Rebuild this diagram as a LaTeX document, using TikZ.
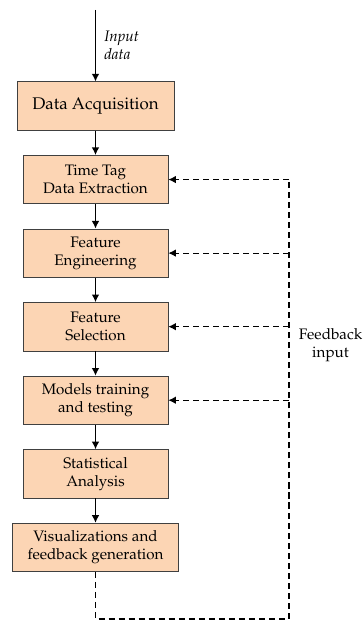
\documentclass[tikz,border=0pt]{standalone}
\usepackage[T1]{fontenc}
\usepackage{mathpazo}
\usetikzlibrary{arrows.meta,positioning}

\definecolor{boxpeach}{RGB}{252,213,180}

\tikzset{
  stage/.style={draw=black!75, fill=boxpeach, minimum width=95.4pt,
    minimum height=31.9pt, inner xsep=10pt, align=center},
  flow/.style={thick, -{Latex[length=5pt,width=5pt]}},
  fback/.style={thick, dash pattern=on 4pt off 2.6pt},
}

\begin{document}
\begin{tikzpicture}[x=0.658pt,y=-0.658pt, node distance=16.1pt]
        \useasboundingbox (0,0) rectangle (363,621);
        % pipeline stages
        \node[stage, font=\fontsize{11.1}{13}\selectfont] (acq) at (95.5,106) {Data Acquisition};
        \node[stage, below=of acq] (tag) {Time Tag\\Data Extraction};
        \node[stage, below=of tag] (eng) {Feature\\Engineering};
        \node[stage, below=of eng] (sel) {Feature\\Selection};
        \node[stage, below=of sel] (model) {Models training\\and testing};
        \node[stage, below=of model] (stat) {Statistical\\Analysis};
        \node[stage, below=of stat] (vis) {Visualizations and\\feedback generation};
        % input
        \coordinate (in) at (95.5,10);
        \draw[flow] (in) -- (acq);
        \node[anchor=west, align=left, font=\itshape] (inlbl) at (99,45) {Input\\data};
        \foreach \a/\b in {acq/tag,tag/eng,eng/sel,sel/model,model/stat,stat/vis}
            \draw[flow] (\a) -- (\b);
        % feedback loop
        \coordinate (fbl) at (95.5,619);
        \coordinate (fbr) at (289,619);
        \draw[fback] (vis.south) -- (fbl) -- (fbr) -- (fbr |- tag.east);
        \foreach \n in {tag,eng,sel,model}
            \draw[fback, -{Latex[length=5pt,width=5pt]}] (fbr |- \n.east) -- (\n.east);
        \node[align=center] (fblbl) at (330.5,345) {Feedback\\input};
    \end{tikzpicture}
\end{document}
